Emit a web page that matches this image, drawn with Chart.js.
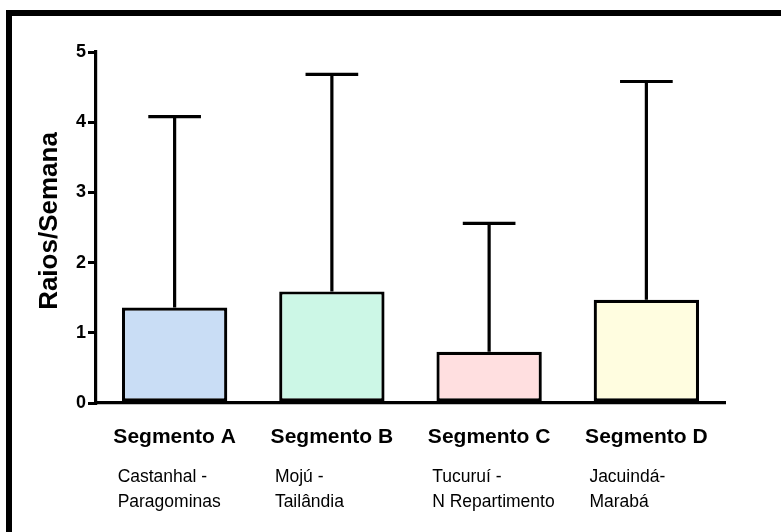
<!DOCTYPE html>
<html>
<head>
<meta charset="utf-8">
<script src="https://cdn.jsdelivr.net/npm/chart.js@4/dist/chart.umd.min.js"></script>
<style>
  html, body { margin: 0; padding: 0; background: #fff; }
  #wrap { width: 781px; height: 532px; }
</style>
</head>
<body>
<div id="wrap"><canvas id="c" width="781" height="532"></canvas></div>
<script>
// Lightning strikes per week along each line segment
const segments = ['Segmento A', 'Segmento B', 'Segmento C', 'Segmento D'];
const routes = [
  ['Castanhal -', 'Paragominas'],
  ['Mojú -', 'Tailândia'],
  ['Tucuruí -', 'N Repartimento'],
  ['Jacuindá-', 'Marabá']
];
const meanValues = [1.36, 1.59, 0.73, 1.47];
const upperError = [4.08, 4.68, 2.56, 4.58];
const yTicks = [0, 1, 2, 3, 4, 5];
const yTitle = 'Raios/Semana';

const fillColors = ['#c9ddf5', '#ccf7e6', '#ffdfe0', '#fffde0'];

// White page with the heavy black frame on top and left
const framePlugin = {
  id: 'frame',
  beforeDraw(chart) {
    const ctx = chart.ctx;
    ctx.save();
    ctx.fillStyle = '#fff';
    ctx.fillRect(0, 0, chart.width, chart.height);
    ctx.fillStyle = '#000';
    ctx.fillRect(6, 10, chart.width, 6);
    ctx.fillRect(6, 10, 6, chart.height);
    ctx.restore();
  }
};

// Upper error bars (whisker + cap) above each bar
const errorBarPlugin = {
  id: 'errorBars',
  afterDatasetsDraw(chart) {
    const ctx = chart.ctx;
    const yScale = chart.scales.y;
    const meta = chart.getDatasetMeta(0);
    ctx.save();
    ctx.strokeStyle = '#000';
    ctx.lineWidth = 3.2;
    ctx.lineCap = 'butt';
    meta.data.forEach((bar, i) => {
      const x = bar.x;
      const yTop = yScale.getPixelForValue(upperError[i]);
      const half = bar.width / 4;
      ctx.beginPath();
      ctx.moveTo(x, bar.y);
      ctx.lineTo(x, yTop);
      ctx.moveTo(x - half, yTop);
      ctx.lineTo(x + half, yTop);
      ctx.stroke();
    });
    ctx.restore();
  }
};

// Route names under each segment label, and the rotated y-axis title
const textPlugin = {
  id: 'extraText',
  afterDraw(chart) {
    const ctx = chart.ctx;
    const xScale = chart.scales.x;
    ctx.save();
    ctx.fillStyle = '#000';
    ctx.font = '17.5px "Liberation Sans", Arial, sans-serif';
    ctx.textAlign = 'left';
    ctx.textBaseline = 'alphabetic';
    routes.forEach((lines, i) => {
      const x = xScale.getPixelForValue(i) - 57;
      ctx.fillText(lines[0], x, 482);
      ctx.fillText(lines[1], x, 507);
    });

    ctx.translate(50, 221);
    ctx.rotate(-Math.PI / 2);
    ctx.font = 'bold 26px "Liberation Sans", Arial, sans-serif';
    ctx.textAlign = 'center';
    ctx.textBaseline = 'middle';
    ctx.fillText(yTitle, 0, 0);
    ctx.restore();
  }
};

new Chart(document.getElementById('c'), {
  type: 'bar',
  data: {
    labels: segments,
    datasets: [{
      data: meanValues,
      backgroundColor: fillColors,
      borderColor: '#000',
      borderWidth: 3.2,
      borderSkipped: false,
      categoryPercentage: 1,
      barPercentage: 0.67
    }]
  },
  options: {
    responsive: false,
    animation: false,
    devicePixelRatio: 1,
    layout: { padding: { top: 52, right: 56, bottom: 0, left: 0 } },
    plugins: {
      legend: { display: false },
      tooltip: { enabled: false }
    },
    scales: {
      x: {
        grid: { display: false, drawTicks: false },
        border: { display: true, color: '#000', width: 3.2 },
        ticks: {
          color: '#000',
          padding: 22,
          maxRotation: 0,
          font: { family: '"Liberation Sans", Arial, sans-serif', size: 21, weight: 'bold' }
        },
        afterFit(scale) { scale.height = 129; }
      },
      y: {
        min: 0,
        max: 5,
        afterBuildTicks(scale) { scale.ticks = yTicks.map(v => ({ value: v })); },
        grid: {
          display: true,
          drawOnChartArea: false,
          drawTicks: true,
          tickLength: 8,
          tickWidth: 3,
          tickColor: '#000',
          color: '#000',
          lineWidth: 3
        },
        border: { display: true, color: '#000', width: 3.2 },
        ticks: {
          color: '#000',
          padding: 2,
          font: { family: '"Liberation Sans", Arial, sans-serif', size: 18, weight: 'bold' }
        },
        title: { display: false },
        afterFit(scale) { scale.width = 96; }
      }
    }
  },
  plugins: [framePlugin, errorBarPlugin, textPlugin]
});
</script>
</body>
</html>
